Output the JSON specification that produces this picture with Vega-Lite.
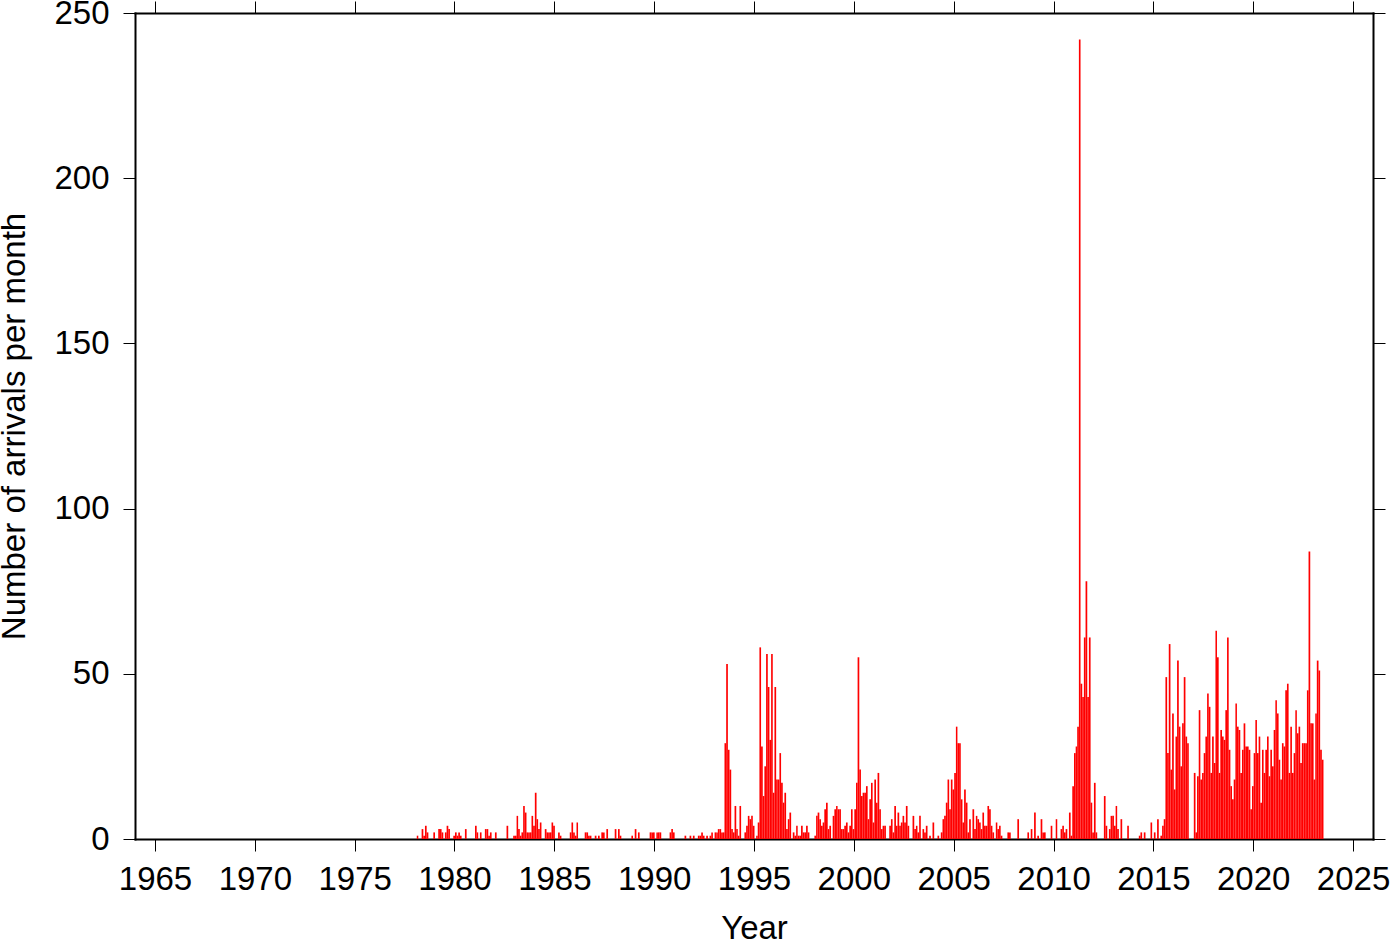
{
  "$schema": "https://vega.github.io/schema/vega-lite/v6.json",
  "width": 1238,
  "height": 826,
  "autosize": "none",
  "padding": {"left": 135, "top": 13, "right": 27, "bottom": 103},
  "background": "white",
  "config": {
    "view": {"stroke": null},
    "axis": {
      "domain": true, "domainColor": "black", "domainWidth": 2, "domainCap": "square",
      "ticks": true, "tickColor": "black", "tickWidth": 1, "tickSize": 12,
      "grid": false, "zindex": 1,
      "labelFont": "Liberation Sans", "labelFontSize": 33, "labelColor": "black",
      "titleFont": "Liberation Sans", "titleFontSize": 33, "titleFontWeight": "normal", "titleColor": "black"
    }
  },
  "data": {"values": [
    {"month":"1978-02","count":1},{"month":"1978-05","count":3},{"month":"1978-06","count":1},{"month":"1978-07","count":4},{"month":"1978-08","count":2},{"month":"1978-12","count":2},
    {"month":"1979-03","count":3},{"month":"1979-04","count":3},{"month":"1979-05","count":2},{"month":"1979-07","count":2},{"month":"1979-08","count":4},{"month":"1979-09","count":3},{"month":"1979-12","count":1},
    {"month":"1980-01","count":2},{"month":"1980-02","count":1},{"month":"1980-03","count":2},{"month":"1980-04","count":1},{"month":"1980-07","count":3},
    {"month":"1981-01","count":4},{"month":"1981-02","count":2},{"month":"1981-04","count":2},{"month":"1981-07","count":3},{"month":"1981-08","count":3},{"month":"1981-09","count":1},{"month":"1981-10","count":2},
    {"month":"1982-01","count":2},{"month":"1982-08","count":4},{"month":"1982-12","count":1},
    {"month":"1983-01","count":1},{"month":"1983-02","count":7},{"month":"1983-03","count":3},{"month":"1983-04","count":1},{"month":"1983-05","count":2},{"month":"1983-06","count":10},{"month":"1983-07","count":8},{"month":"1983-08","count":2},{"month":"1983-09","count":2},{"month":"1983-10","count":2},{"month":"1983-11","count":7},{"month":"1983-12","count":4},
    {"month":"1984-01","count":14},{"month":"1984-02","count":6},{"month":"1984-03","count":3},{"month":"1984-04","count":5},{"month":"1984-07","count":3},{"month":"1984-08","count":2},{"month":"1984-09","count":2},{"month":"1984-10","count":2},{"month":"1984-11","count":5},{"month":"1984-12","count":4},
    {"month":"1985-03","count":2},{"month":"1985-04","count":1},{"month":"1985-10","count":2},{"month":"1985-11","count":5},{"month":"1985-12","count":2},
    {"month":"1986-01","count":1},{"month":"1986-02","count":5},{"month":"1986-07","count":2},{"month":"1986-08","count":2},{"month":"1986-09","count":1},{"month":"1986-10","count":1},
    {"month":"1987-01","count":1},{"month":"1987-03","count":1},{"month":"1987-05","count":2},{"month":"1987-06","count":2},{"month":"1987-08","count":3},
    {"month":"1988-01","count":3},{"month":"1988-03","count":3},{"month":"1988-04","count":1},{"month":"1988-11","count":1},
    {"month":"1989-01","count":3},{"month":"1989-03","count":2},{"month":"1989-10","count":2},{"month":"1989-11","count":2},{"month":"1989-12","count":2},
    {"month":"1990-02","count":2},{"month":"1990-03","count":2},{"month":"1990-04","count":2},{"month":"1990-10","count":2},{"month":"1990-11","count":3},{"month":"1990-12","count":2},
    {"month":"1991-07","count":1},{"month":"1991-10","count":1},{"month":"1991-12","count":1},
    {"month":"1992-03","count":1},{"month":"1992-04","count":1},{"month":"1992-05","count":2},{"month":"1992-06","count":1},{"month":"1992-08","count":1},{"month":"1992-10","count":1},{"month":"1992-11","count":2},
    {"month":"1993-01","count":2},{"month":"1993-02","count":2},{"month":"1993-03","count":3},{"month":"1993-04","count":3},{"month":"1993-05","count":2},{"month":"1993-06","count":2},{"month":"1993-07","count":29},{"month":"1993-08","count":53},{"month":"1993-09","count":27},{"month":"1993-10","count":21},{"month":"1993-11","count":3},{"month":"1993-12","count":2},
    {"month":"1994-01","count":10},{"month":"1994-02","count":3},{"month":"1994-03","count":1},{"month":"1994-04","count":10},{"month":"1994-07","count":2},{"month":"1994-08","count":4},{"month":"1994-09","count":7},{"month":"1994-10","count":6},{"month":"1994-11","count":7},{"month":"1994-12","count":4},
    {"month":"1995-02","count":1},{"month":"1995-03","count":5},{"month":"1995-04","count":58},{"month":"1995-05","count":28},{"month":"1995-06","count":13},{"month":"1995-07","count":22},{"month":"1995-08","count":56},{"month":"1995-09","count":46},{"month":"1995-10","count":30},{"month":"1995-11","count":56},{"month":"1995-12","count":14},
    {"month":"1996-01","count":46},{"month":"1996-02","count":18},{"month":"1996-03","count":18},{"month":"1996-04","count":26},{"month":"1996-05","count":17},{"month":"1996-06","count":11},{"month":"1996-07","count":14},{"month":"1996-08","count":3},{"month":"1996-09","count":6},{"month":"1996-10","count":8},{"month":"1996-12","count":2},
    {"month":"1997-01","count":1},{"month":"1997-02","count":4},{"month":"1997-03","count":1},{"month":"1997-04","count":1},{"month":"1997-05","count":4},{"month":"1997-06","count":2},{"month":"1997-07","count":2},{"month":"1997-08","count":4},{"month":"1997-09","count":2},
    {"month":"1998-01","count":1},{"month":"1998-02","count":7},{"month":"1998-03","count":8},{"month":"1998-04","count":6},{"month":"1998-05","count":4},{"month":"1998-06","count":5},{"month":"1998-07","count":9},{"month":"1998-08","count":11},{"month":"1998-09","count":3},{"month":"1998-10","count":4},{"month":"1998-12","count":7},
    {"month":"1999-01","count":9},{"month":"1999-02","count":10},{"month":"1999-03","count":9},{"month":"1999-04","count":9},{"month":"1999-05","count":3},{"month":"1999-06","count":3},{"month":"1999-07","count":4},{"month":"1999-08","count":5},{"month":"1999-09","count":2},{"month":"1999-10","count":4},{"month":"1999-11","count":9},{"month":"1999-12","count":3},
    {"month":"2000-01","count":9},{"month":"2000-02","count":17},{"month":"2000-03","count":55},{"month":"2000-04","count":21},{"month":"2000-05","count":13},{"month":"2000-06","count":14},{"month":"2000-07","count":14},{"month":"2000-08","count":16},{"month":"2000-09","count":6},{"month":"2000-10","count":12},{"month":"2000-11","count":17},{"month":"2000-12","count":5},
    {"month":"2001-01","count":18},{"month":"2001-02","count":11},{"month":"2001-03","count":20},{"month":"2001-04","count":9},{"month":"2001-05","count":3},{"month":"2001-06","count":4},{"month":"2001-07","count":4},{"month":"2001-10","count":4},{"month":"2001-11","count":6},{"month":"2001-12","count":2},
    {"month":"2002-01","count":10},{"month":"2002-02","count":4},{"month":"2002-03","count":8},{"month":"2002-04","count":4},{"month":"2002-05","count":5},{"month":"2002-06","count":7},{"month":"2002-07","count":5},{"month":"2002-08","count":10},{"month":"2002-09","count":4},{"month":"2002-12","count":7},
    {"month":"2003-01","count":3},{"month":"2003-02","count":4},{"month":"2003-03","count":2},{"month":"2003-04","count":7},{"month":"2003-06","count":3},{"month":"2003-07","count":2},{"month":"2003-08","count":4},{"month":"2003-10","count":1},{"month":"2003-12","count":5},
    {"month":"2004-03","count":1},{"month":"2004-05","count":2},{"month":"2004-06","count":6},{"month":"2004-07","count":7},{"month":"2004-08","count":11},{"month":"2004-09","count":18},{"month":"2004-10","count":9},{"month":"2004-11","count":18},{"month":"2004-12","count":15},
    {"month":"2005-01","count":20},{"month":"2005-02","count":34},{"month":"2005-03","count":29},{"month":"2005-04","count":29},{"month":"2005-05","count":12},{"month":"2005-06","count":5},{"month":"2005-07","count":15},{"month":"2005-08","count":11},{"month":"2005-09","count":2},{"month":"2005-10","count":6},{"month":"2005-12","count":9},
    {"month":"2006-01","count":3},{"month":"2006-02","count":7},{"month":"2006-03","count":6},{"month":"2006-04","count":5},{"month":"2006-05","count":3},{"month":"2006-06","count":8},{"month":"2006-07","count":4},{"month":"2006-08","count":4},{"month":"2006-09","count":10},{"month":"2006-10","count":9},{"month":"2006-11","count":4},{"month":"2006-12","count":2},
    {"month":"2007-02","count":5},{"month":"2007-03","count":3},{"month":"2007-04","count":4},{"month":"2007-05","count":1},{"month":"2007-09","count":2},{"month":"2007-10","count":2},
    {"month":"2008-03","count":6},{"month":"2008-09","count":2},{"month":"2008-11","count":3},
    {"month":"2009-01","count":8},{"month":"2009-03","count":1},{"month":"2009-05","count":6},{"month":"2009-06","count":2},{"month":"2009-07","count":2},{"month":"2009-11","count":4},
    {"month":"2010-02","count":6},{"month":"2010-05","count":3},{"month":"2010-06","count":4},{"month":"2010-07","count":2},{"month":"2010-08","count":3},{"month":"2010-10","count":8},{"month":"2010-11","count":1},{"month":"2010-12","count":16},
    {"month":"2011-01","count":26},{"month":"2011-02","count":28},{"month":"2011-03","count":34},{"month":"2011-04","count":242},{"month":"2011-05","count":47},{"month":"2011-06","count":43},{"month":"2011-07","count":61},{"month":"2011-08","count":78},{"month":"2011-09","count":43},{"month":"2011-10","count":61},{"month":"2011-11","count":11},{"month":"2011-12","count":2},
    {"month":"2012-01","count":17},{"month":"2012-02","count":2},{"month":"2012-07","count":13},{"month":"2012-08","count":4},{"month":"2012-10","count":3},{"month":"2012-11","count":7},{"month":"2012-12","count":7},
    {"month":"2013-01","count":4},{"month":"2013-02","count":10},{"month":"2013-03","count":3},{"month":"2013-05","count":6},{"month":"2013-09","count":4},
    {"month":"2014-04","count":1},{"month":"2014-05","count":2},{"month":"2014-07","count":2},{"month":"2014-11","count":5},
    {"month":"2015-01","count":2},{"month":"2015-03","count":6},{"month":"2015-05","count":1},{"month":"2015-06","count":4},{"month":"2015-07","count":6},{"month":"2015-08","count":49},{"month":"2015-09","count":26},{"month":"2015-10","count":59},{"month":"2015-11","count":21},{"month":"2015-12","count":38},
    {"month":"2016-01","count":15},{"month":"2016-02","count":31},{"month":"2016-03","count":54},{"month":"2016-04","count":34},{"month":"2016-05","count":22},{"month":"2016-06","count":35},{"month":"2016-07","count":49},{"month":"2016-08","count":31},{"month":"2016-09","count":29},
    {"month":"2017-01","count":20},{"month":"2017-02","count":2},{"month":"2017-03","count":19},{"month":"2017-04","count":39},{"month":"2017-05","count":18},{"month":"2017-06","count":20},{"month":"2017-07","count":26},{"month":"2017-08","count":31},{"month":"2017-09","count":44},{"month":"2017-10","count":40},{"month":"2017-11","count":20},{"month":"2017-12","count":31},
    {"month":"2018-01","count":23},{"month":"2018-02","count":63},{"month":"2018-03","count":55},{"month":"2018-04","count":20},{"month":"2018-05","count":33},{"month":"2018-06","count":31},{"month":"2018-07","count":30},{"month":"2018-08","count":39},{"month":"2018-09","count":61},{"month":"2018-10","count":27},{"month":"2018-11","count":16},{"month":"2018-12","count":12},
    {"month":"2019-01","count":18},{"month":"2019-02","count":41},{"month":"2019-03","count":34},{"month":"2019-04","count":33},{"month":"2019-05","count":20},{"month":"2019-06","count":27},{"month":"2019-07","count":35},{"month":"2019-08","count":28},{"month":"2019-09","count":28},{"month":"2019-10","count":27},{"month":"2019-11","count":9},{"month":"2019-12","count":16},
    {"month":"2020-01","count":26},{"month":"2020-02","count":36},{"month":"2020-03","count":26},{"month":"2020-04","count":31},{"month":"2020-05","count":11},{"month":"2020-06","count":27},{"month":"2020-07","count":20},{"month":"2020-08","count":27},{"month":"2020-09","count":31},{"month":"2020-10","count":19},{"month":"2020-11","count":27},{"month":"2020-12","count":22},
    {"month":"2021-01","count":33},{"month":"2021-02","count":42},{"month":"2021-03","count":38},{"month":"2021-04","count":24},{"month":"2021-05","count":18},{"month":"2021-06","count":29},{"month":"2021-07","count":28},{"month":"2021-08","count":45},{"month":"2021-09","count":47},{"month":"2021-10","count":20},{"month":"2021-11","count":34},{"month":"2021-12","count":20},
    {"month":"2022-01","count":26},{"month":"2022-02","count":39},{"month":"2022-03","count":32},{"month":"2022-04","count":34},{"month":"2022-05","count":23},{"month":"2022-06","count":29},{"month":"2022-07","count":29},{"month":"2022-08","count":29},{"month":"2022-09","count":45},{"month":"2022-10","count":87},{"month":"2022-11","count":35},{"month":"2022-12","count":35},
    {"month":"2023-01","count":18},{"month":"2023-02","count":38},{"month":"2023-03","count":54},{"month":"2023-04","count":51},{"month":"2023-05","count":27},{"month":"2023-06","count":24}
  ]},
  "layer": [
    {
      "mark": {"type": "bar", "color": "#ff0000", "binSpacing": 0},
      "encoding": {
        "x": {
          "field": "month", "timeUnit": "utcyearmonth", "type": "temporal",
          "scale": {"domain": [{"year": 1964, "utc": true}, {"year": 2026, "utc": true}]},
          "axis": {
            "orient": "bottom", "title": "Year", "format": "%Y",
            "values": [{"year":1965,"utc":true},{"year":1970,"utc":true},{"year":1975,"utc":true},{"year":1980,"utc":true},{"year":1985,"utc":true},{"year":1990,"utc":true},{"year":1995,"utc":true},{"year":2000,"utc":true},{"year":2005,"utc":true},{"year":2010,"utc":true},{"year":2015,"utc":true},{"year":2020,"utc":true},{"year":2025,"utc":true}],
            "labelPadding": 12, "titlePadding": 16, "labelFlush": false, "labelOverlap": false
          }
        },
        "y": {
          "field": "count", "type": "quantitative",
          "scale": {"domain": [0, 250], "nice": false},
          "axis": {"orient": "left", "title": "Number of arrivals per month", "values": [0, 50, 100, 150, 200, 250], "labelPadding": 14, "titlePadding": 22}
        }
      }
    },
    {
      "mark": {"type": "bar", "opacity": 0, "binSpacing": 0},
      "encoding": {
        "x": {
          "field": "month", "timeUnit": "utcyearmonth", "type": "temporal",
          "axis": {
            "orient": "top", "title": null, "labels": false,
            "values": [{"year":1965,"utc":true},{"year":1970,"utc":true},{"year":1975,"utc":true},{"year":1980,"utc":true},{"year":1985,"utc":true},{"year":1990,"utc":true},{"year":1995,"utc":true},{"year":2000,"utc":true},{"year":2005,"utc":true},{"year":2010,"utc":true},{"year":2015,"utc":true},{"year":2020,"utc":true},{"year":2025,"utc":true}]
          }
        },
        "y": {
          "field": "count", "type": "quantitative",
          "axis": {"orient": "right", "title": null, "labels": false, "values": [0, 50, 100, 150, 200, 250]}
        }
      }
    }
  ],
  "resolve": {"axis": {"x": "independent", "y": "independent"}}
}
